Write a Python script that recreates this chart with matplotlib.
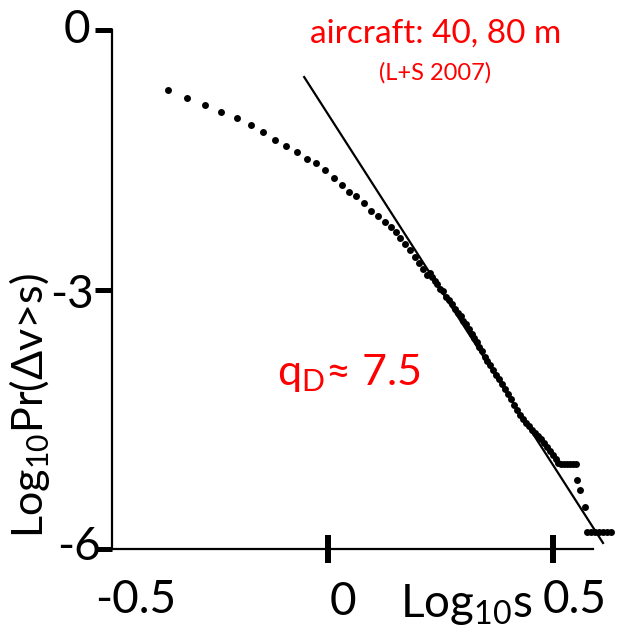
import matplotlib
matplotlib.use("Agg")
import matplotlib.pyplot as plt

plt.rcParams['font.family'] = ['Lato', 'DejaVu Sans']
plt.rcParams['mathtext.fontset'] = 'custom'
plt.rcParams['mathtext.rm'] = 'Lato'
plt.rcParams['mathtext.it'] = 'Lato'

# ===== DATA =====
# log10 s
log_s = [
    -0.356, -0.313, -0.273, -0.238, -0.202, -0.171, -0.144, -0.118, -0.093, -0.069,
    -0.047, -0.027, -0.007, 0.013, 0.031, 0.047, 0.062, 0.080, 0.096, 0.111,
    0.127, 0.140, 0.151, 0.160, 0.171, 0.182, 0.193, 0.202, 0.211, 0.220,
    0.227, 0.231, 0.238, 0.242, 0.249, 0.256, 0.262, 0.269, 0.276, 0.282,
    0.289, 0.296, 0.300, 0.307, 0.313, 0.320, 0.324, 0.331, 0.336, 0.342,
    0.349, 0.353, 0.360, 0.367, 0.373, 0.380, 0.387, 0.393, 0.400, 0.407,
    0.413, 0.420, 0.427, 0.433, 0.440, 0.447, 0.453, 0.460, 0.467, 0.473,
    0.480, 0.487, 0.493, 0.500, 0.507, 0.511,
    0.518, 0.524, 0.531, 0.538, 0.544, 0.551,
    0.553, 0.560, 0.571,
    0.576, 0.584, 0.593, 0.602, 0.611, 0.620, 0.629,
]
# log10 Pr(dv > s)
log_pr = [
    -0.695, -0.788, -0.869, -0.950, -1.019, -1.100, -1.181, -1.274, -1.344, -1.413,
    -1.494, -1.541, -1.622, -1.714, -1.795, -1.877, -1.923, -2.004, -2.097, -2.155,
    -2.224, -2.282, -2.340, -2.409, -2.479, -2.548, -2.629, -2.699, -2.768, -2.838,
    -2.815, -2.861, -2.907, -2.942, -2.989, -3.023, -3.081, -3.116, -3.162, -3.220,
    -3.266, -3.301, -3.359, -3.394, -3.452, -3.510, -3.556, -3.602, -3.660, -3.707,
    -3.776, -3.822, -3.869, -3.927, -3.985, -4.031, -4.089, -4.147, -4.205, -4.263,
    -4.332, -4.390, -4.448, -4.494, -4.541, -4.575, -4.622, -4.657, -4.691, -4.726,
    -4.772, -4.819, -4.865, -4.911, -4.958, -5.004,
    -5.016, -5.016, -5.016, -5.016, -5.016, -5.016,
    -5.201, -5.317, -5.514,
    -5.803, -5.803, -5.803, -5.803, -5.803, -5.803, -5.803,
]

# power-law fit line (endpoints)
fit_x = [-0.053, 0.611]
fit_y = [-0.544, -5.93]

x_ticks = [0, 0.5]
y_ticks = [0, -3, -6]

fig = plt.figure(figsize=(6.19, 6.44), dpi=100)
ax = fig.add_axes([112 / 619, 95 / 644, 500 / 619, 519 / 644])

ax.plot(fit_x, fit_y, color='black', lw=1.6, clip_on=False)
ax.plot(log_s, log_pr, 'o', color='black', ms=5, mew=0, clip_on=False)

ax.set_xlim(-0.48, 0.631)
ax.set_ylim(-6, 0)
for s in ['top', 'right']:
    ax.spines[s].set_visible(False)
for s in ['left', 'bottom']:
    ax.spines[s].set_linewidth(1.6)
ax.spines['bottom'].set_bounds(-0.48, 0.589)

ax.set_xticks(x_ticks)
ax.set_yticks(y_ticks)
ax.set_xticklabels([])
ax.set_yticklabels([])
ax.tick_params(axis='x', direction='inout', length=20, width=4.3)
ax.tick_params(axis='y', direction='out', length=12, width=3.6)

# tick labels placed by hand (offset like the original slide)
def fig_text(px, py, s, **kw):
    fig.text(px / 619, 1 - py / 644, s, **kw)

fs = 33
fig_text(90, 30, '0', ha='right', va='center', fontsize=fs)
fig_text(94, 295, '-3', ha='right', va='center', fontsize=fs)
fig_text(101, 547, '-6', ha='right', va='center', fontsize=fs)
fig_text(136, 600, '-0.5', ha='center', va='center', fontsize=fs)
fig_text(343, 602, '0', ha='center', va='center', fontsize=fs)
fig_text(575, 600, '0.5', ha='center', va='center', fontsize=fs)
fig_text(400, 617, r'Log$\mathregular{_{10}}$s', ha='left', va='baseline', fontsize=fs)
fig_text(30, 406, r'Log$\mathregular{_{10}}$Pr($\mathregular{\Delta}$v>s)', ha='center', va='center',
         rotation=90, fontsize=31)

fig_text(436, 34, 'aircraft: 40, 80 m', ha='center', va='center', fontsize=24, color='red')
fig_text(435, 73, '(L+S 2007)', ha='center', va='center', fontsize=17, color='red')
fig_text(277, 385, r'q$\mathregular{_D}$≈ 7.5', ha='left', va='baseline', fontsize=31, color='red')

fig.savefig('out.png', dpi=100)
